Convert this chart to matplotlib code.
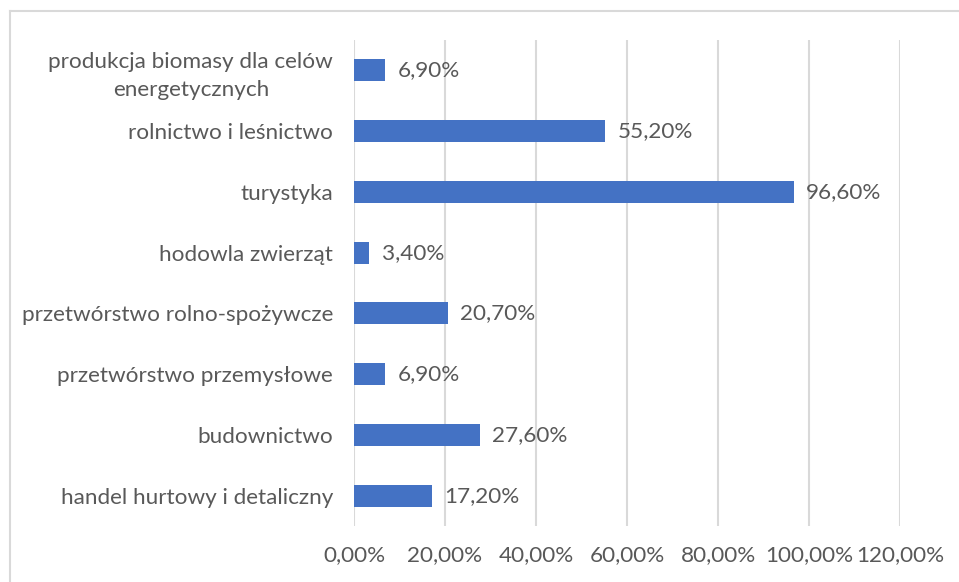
import matplotlib.pyplot as plt
from matplotlib.lines import Line2D

categories = [
    "produkcja biomasy dla celów\nenergetycznych",
    "rolnictwo i leśnictwo",
    "turystyka",
    "hodowla zwierząt",
    "przetwórstwo rolno-spożywcze",
    "przetwórstwo przemysłowe",
    "budownictwo",
    "handel hurtowy i detaliczny",
]
values = [6.9, 55.2, 96.6, 3.4, 20.7, 6.9, 27.6, 17.2]
xticks = [0, 20, 40, 60, 80, 100, 120]

plt.rcParams["font.family"] = ["Lato", "DejaVu Sans"]
text_color = "#595959"
grid_color = "#D9D9D9"
fs = 16.2

fig = plt.figure(figsize=(9.59, 5.82), dpi=100)
ax = fig.add_axes([354 / 959, 1 - 526 / 582, 546 / 959, 486 / 582])

pos = list(range(len(categories)))[::-1]
ax.barh(pos, values, height=0.36, color="#4472C4", zorder=3)

for p, v in zip(pos, values):
    ax.text(v + 2.7, p, f"{v:.2f}%".replace(".", ","), va="center", ha="left",
            fontsize=fs, color=text_color)

ax.set_xlim(0, 120)
ax.set_ylim(-0.5, len(categories) - 0.5)
ax.set_xticks(xticks)
ax.set_xticklabels([f"{t:.2f}%".replace(".", ",") for t in xticks])
ax.set_yticks(pos)
ax.set_yticklabels(categories, linespacing=1.45)
ax.tick_params(axis="both", length=0, labelsize=fs, labelcolor=text_color)
ax.tick_params(axis="x", pad=14)
ax.tick_params(axis="y", pad=15)
for lab in ax.get_yticklabels():
    lab.set_horizontalalignment("right")
    lab.set_multialignment("center")
ax.xaxis.grid(True, color=grid_color, linewidth=1.5, zorder=0)
ax.set_axisbelow(True)
for s in ax.spines.values():
    s.set_visible(False)

# light frame around the chart (only top and left are visible in the crop)
fig.add_artist(Line2D([10 / 959, 1], [1 - 11 / 582, 1 - 11 / 582],
                      color=grid_color, linewidth=1.5, transform=fig.transFigure))
fig.add_artist(Line2D([10 / 959, 10 / 959], [0, 1 - 11 / 582],
                      color=grid_color, linewidth=1.5, transform=fig.transFigure))

fig.savefig("out.png", dpi=100)
